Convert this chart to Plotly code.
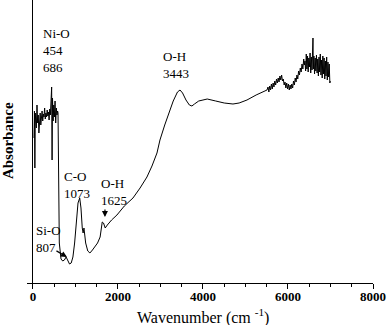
import plotly.graph_objects as go

# FTIR spectrum (wavenumber in cm-1, absorbance in a.u.)
wavenumber = [
    25, 35, 45, 55, 65, 80, 95, 110, 125, 140, 155, 170, 185, 200, 215, 230, 245, 260,
    275, 290, 305, 320, 335, 350, 365, 380, 395, 410, 425, 440, 450, 460, 475, 490, 505,
    520, 535, 550, 565, 580, 590, 620, 640,
    660, 700, 740, 780, 820, 860, 900, 940, 980, 1020, 1060, 1100, 1130, 1160, 1180, 1200,
    1240, 1290, 1340, 1400, 1460, 1520, 1580, 1630, 1660, 1700, 1750, 1850, 1976, 2150,
    2353, 2520, 2682, 2800, 2918, 2988, 3100, 3224, 3300, 3400, 3460, 3520, 3600, 3680,
    3740, 3800, 3900, 4000, 4100, 4300, 4500, 4706, 4850, 5035, 5250, 5506,
    5530, 5550, 5570, 5590, 5610, 5630, 5650, 5670, 5690, 5710, 5730, 5750, 5770, 5790,
    5810, 5830, 5850, 5870, 5890, 5910, 5930, 5950, 5970, 5990, 6010, 6030, 6050, 6070,
    6090, 6110, 6130, 6150, 6170, 6190, 6210, 6230, 6250, 6270, 6290, 6310, 6330, 6350,
    6370, 6385,
    6400, 6415, 6430, 6445, 6460, 6475, 6490, 6505, 6520, 6535, 6550, 6565, 6580, 6588,
    6596, 6610, 6625, 6640, 6655, 6670, 6685, 6700, 6715, 6730, 6745, 6760, 6775, 6790,
    6805, 6820, 6835, 6850, 6865, 6880, 6895, 6910, 6925, 6940, 6955, 6970, 6985, 6995,
]
absorbance = [
    1.45, 1.72, 1.15, 1.70, 1.62, 1.55, 1.78, 1.60, 1.68, 1.50, 1.66, 1.70, 1.58, 1.67, 1.72, 1.62, 1.69, 1.66,
    1.75, 1.64, 1.70, 1.66, 1.73, 1.67, 1.71, 1.63, 1.74, 1.68, 1.80, 1.96, 1.23, 1.85, 1.62, 1.78, 1.66,
    1.82, 1.60, 1.75, 1.68, 1.72, 1.70, 0.40, 0.26,
    0.24, 0.22, 0.23, 0.26, 0.23, 0.19, 0.20, 0.26, 0.40, 0.62, 0.80, 0.85, 0.75, 0.55, 0.50, 0.55,
    0.40, 0.32, 0.30, 0.33, 0.36, 0.40, 0.46, 0.61, 0.60, 0.55, 0.58, 0.63, 0.68, 0.77,
    0.85, 0.95, 1.06, 1.17, 1.30, 1.43, 1.58, 1.73, 1.82, 1.91, 1.93, 1.90, 1.83, 1.78,
    1.77, 1.79, 1.82, 1.83, 1.84, 1.82, 1.80, 1.79, 1.80, 1.83, 1.88, 1.93,
    1.96, 1.91, 1.97, 1.93, 1.99, 1.94, 2.00, 1.96, 2.02, 1.98, 2.04, 2.00, 2.05, 2.01,
    2.07, 2.03, 2.08, 2.02, 2.04, 1.98, 2.01, 1.95, 2.00, 1.94, 1.99, 1.93, 1.98, 1.94,
    1.99, 1.95, 2.02, 1.98, 2.05, 2.01, 2.08, 2.04, 2.12, 2.08, 2.15, 2.11, 2.19, 2.14,
    2.24, 2.18,
    2.22, 2.12, 2.29, 2.14, 2.27, 2.11, 2.25, 2.16, 2.30, 2.10, 2.26, 2.13, 2.32, 2.45,
    2.14, 2.27, 2.09, 2.25, 2.12, 2.28, 2.10, 2.24, 2.07, 2.26, 2.11, 2.29, 2.08, 2.23,
    2.05, 2.27, 2.09, 2.25, 2.04, 2.22, 2.07, 2.26, 2.03, 2.21, 2.06, 2.19, 2.00, 2.02,
]

# peak labels: text, text anchor (x, y), optional arrow tip (x, y) and tail offset (px)
label_texts = ["Ni-O<br>454<br>686", "O-H<br>3443", "C-O<br>1073", "O-H<br>1625", "Si-O<br>807"]
label_x = [188, 3012, 682, 1553, 24]
label_y = [2.59, 2.36, 1.16, 1.09, 0.62]
arrow_tip_x = [1694, 800]
arrow_tip_y = [0.66, 0.26]
arrow_ax = [0, -12]
arrow_ay = [-9, -7]

tick_vals = [0, 2000, 4000, 6000, 8000]
tick_text = ["0", "2000", "4000", "6000", "8000"]

SERIF = "Liberation Serif, Times New Roman, serif"

fig = go.Figure()
fig.add_trace(go.Scatter(
    x=wavenumber, y=absorbance, mode="lines",
    line=dict(color="black", width=1), showlegend=False, hoverinfo="skip",
))

annotations = []
for t, x, y in zip(label_texts, label_x, label_y):
    annotations.append(dict(
        x=x, y=y, xref="x", yref="y", text=t, showarrow=False,
        xanchor="left", yanchor="top", align="left",
        font=dict(family=SERIF, size=13, color="black"),
    ))
for tx, ty, ax, ay in zip(arrow_tip_x, arrow_tip_y, arrow_ax, arrow_ay):
    annotations.append(dict(
        x=tx, y=ty, xref="x", yref="y", text="", showarrow=True,
        ax=ax, ay=ay, axref="pixel", ayref="pixel",
        arrowhead=2, arrowsize=1, arrowwidth=1.2, arrowcolor="black",
    ))
annotations.append(dict(
    x=-0.055, y=0.505, xref="paper", yref="paper", text="<b>Absorbance</b>",
    showarrow=False, textangle=-90, xanchor="center", yanchor="middle",
    font=dict(family=SERIF, size=15, color="black"),
))
annotations.append(dict(
    x=0.509, y=-0.118, xref="paper", yref="paper",
    text="Wavenumber (cm <sup>-1</sup>)", showarrow=False,
    xanchor="center", yanchor="middle",
    font=dict(family=SERIF, size=16, color="black"),
))

fig.update_layout(
    width=387, height=325,
    margin=dict(l=27, r=14, t=0, b=42),
    paper_bgcolor="white", plot_bgcolor="white",
    annotations=annotations,
    xaxis=dict(
        range=[-140, 8000], showgrid=False,
        zeroline=True, zerolinecolor="black", zerolinewidth=1.2,
        showline=True, linecolor="black", linewidth=1.2,
        ticks="outside", ticklen=5, tickcolor="black", tickwidth=1,
        tickvals=tick_vals, ticktext=tick_text, ticklabelstandoff=-4,
        tickfont=dict(family=SERIF, size=13, color="black", weight="bold"),
        minor=dict(dtick=500, tick0=0, ticks="outside", ticklen=3, tickcolor="black", tickwidth=1, showgrid=False),
    ),
    yaxis=dict(
        range=[0, 2.83], showgrid=False, zeroline=False, showline=False,
        showticklabels=False, ticks="",
    ),
)

fig.write_html(
    "out.html",
    config={"displayModeBar": False},
    post_script="document.body.style.margin='0px';document.body.style.overflow='hidden';",
)
